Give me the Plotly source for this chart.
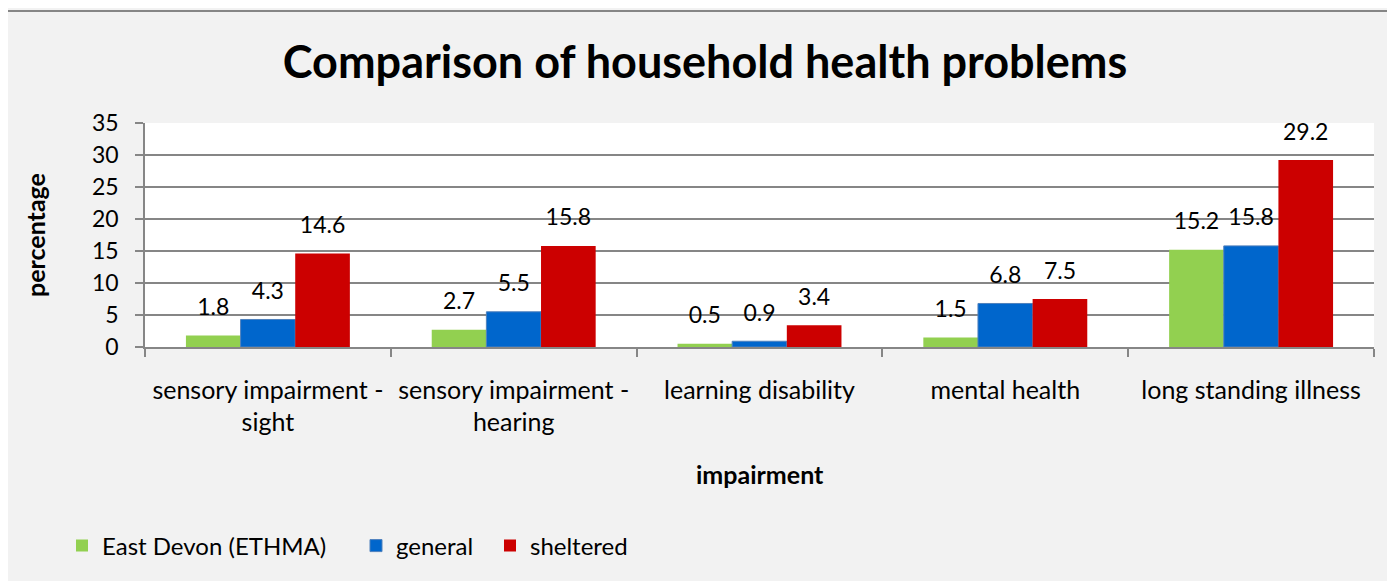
import plotly.graph_objects as go

# datos
categorias = ["sensory impairment -<br>sight", "sensory impairment -<br>hearing",
              "learning disability", "mental health", "long standing illness"]
east_devon = [1.8, 2.7, 0.5, 1.5, 15.2]
general = [4.3, 5.5, 0.9, 6.8, 15.8]
sheltered = [14.6, 15.8, 3.4, 7.5, 29.2]
y_ticks = [0, 5, 10, 15, 20, 25, 30, 35]

FUENTE = "Lato"
W, H = 1395, 581
# la pagina tiene 8px de margen, todo va desplazado
ML, MR, MT, MB = 137, 29, 115, 242
PW, PH = W - ML - MR, H - MT - MB
HUECO = 0.333


def px_a_paper_x(px):
    return (px - ML) / PW


def px_a_paper_y(py):
    return (H - MB - py) / PH


series = [
    ("East Devon (ETHMA)", east_devon, "#92D050", None, "legend", 54),
    ("general", general, "#0066CC", "#4F81BD", "legend2", 348),
    ("sheltered", sheltered, "#CC0000", None, "legend3", 482),
]

fig = go.Figure()
for nombre, valores, color, borde, leyenda, _ in series:
    fig.add_trace(go.Bar(
        x=categorias, y=valores, name=nombre, legend=leyenda,
        marker=dict(color=color,
                    line=dict(color=borde or color, width=1 if borde else 0)),
        showlegend=True,
    ))

# etiquetas de valor: puntos invisibles agrupados como las barras,
# el tamaño del marcador separa el texto de la barra
for nombre, valores, color, borde, leyenda, _ in series:
    fig.add_trace(go.Scatter(
        x=categorias, y=valores, mode="markers+text",
        marker=dict(size=22, color="rgba(0,0,0,0)"),
        text=[f"{v:.1f}" for v in valores],
        textposition="top center",
        textfont=dict(family=FUENTE, size=23, color="black"),
        showlegend=False, hoverinfo="skip", cliponaxis=False,
    ))

leyendas = {}
for nombre, _, _, _, leyenda, x_px in series:
    leyendas[leyenda] = dict(
        orientation="h", xref="container", yref="container",
        x=x_px / W, xanchor="left", y=1 - 538 / H, yanchor="middle",
        bgcolor="rgba(0,0,0,0)", font=dict(family=FUENTE, size=24))

fig.update_layout(
    width=W, height=H,
    margin=dict(l=ML, r=MR, t=MT, b=MB, autoexpand=False),
    paper_bgcolor="#F2F2F2",
    plot_bgcolor="white",
    font=dict(family=FUENTE, size=24, color="black"),
    showlegend=True,
    barmode="group",
    bargap=HUECO,
    bargroupgap=0,
    scattermode="group",
    scattergap=HUECO,
    title=dict(text="<b>Comparison of household health problems</b>",
               x=697 / W, xanchor="center", y=1 - 54 / H, yanchor="middle",
               font=dict(family=FUENTE, size=45, color="black")),
    xaxis=dict(
        showline=True, linecolor="#868686", linewidth=1.5,
        ticks="outside", tickson="boundaries", ticklen=8, tickcolor="#868686",
        tickwidth=1.5, tickfont=dict(family=FUENTE, size=25),
        ticklabelstandoff=20,
    ),
    yaxis=dict(
        range=[0, 35], tickvals=y_ticks,
        showline=True, linecolor="#868686", linewidth=1.5,
        showgrid=True, gridcolor="#868686", gridwidth=1.5,
        ticks="outside", ticklen=8, tickcolor="#868686", tickwidth=1.5,
        tickfont=dict(family=FUENTE, size=23),
        ticklabelstandoff=12,
        zeroline=False,
    ),
    shapes=[
        dict(type="rect", xref="paper", yref="paper", layer="below",
             x0=px_a_paper_x(-1), x1=px_a_paper_x(W + 20),
             y0=px_a_paper_y(H + 20), y1=px_a_paper_y(3),
             fillcolor="rgba(0,0,0,0)", line=dict(color="#868686", width=2)),
    ],
    annotations=[
        dict(text="<b>percentage</b>", textangle=-90, showarrow=False,
             xref="paper", yref="paper",
             x=px_a_paper_x(27), y=px_a_paper_y(227),
             xanchor="center", yanchor="middle",
             font=dict(family=FUENTE, size=25)),
        dict(text="<b>impairment</b>", showarrow=False,
             xref="paper", yref="paper",
             x=px_a_paper_x(752), y=px_a_paper_y(466),
             xanchor="center", yanchor="middle",
             font=dict(family=FUENTE, size=25)),
    ],
    **leyendas,
)

fig.write_html("out.html")
